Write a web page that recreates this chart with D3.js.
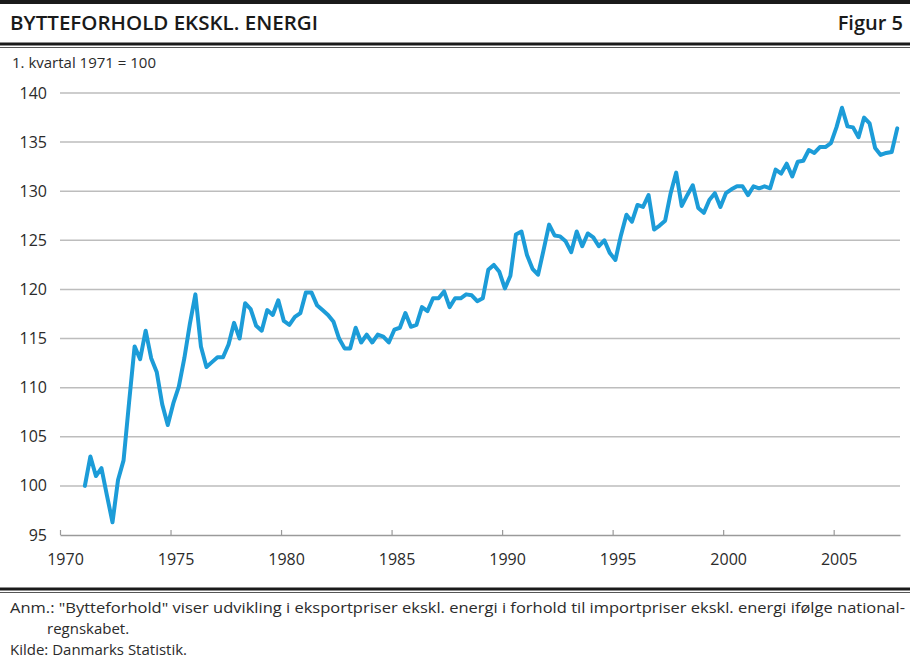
<!DOCTYPE html>
<html>
<head>
<meta charset="utf-8">
<script src="https://cdn.jsdelivr.net/npm/d3@7"></script>
<style>
  body { margin: 0; background: #fff; }
  svg { display: block; font-family: "Open Sans", sans-serif; }
</style>
</head>
<body>
<div id="graph"></div>
<script>
// Data ////////////////////////////////////////////////////////////////////
const title = "BYTTEFORHOLD EKSKL. ENERGI";
const figLabel = "Figur 5";
const unitLabel = "1. kvartal 1971 = 100";
const noteLines = [
  "Anm.: \"Bytteforhold\" viser udvikling i eksportpriser ekskl. energi i forhold til importpriser ekskl. energi ifølge national-",
  "regnskabet."
];
const sourceLine = "Kilde: Danmarks Statistik.";

const firstYear = 1971; // first quarter of the series
// quarterly index, 1971Q1 .. 2007Q4
const values = [
  100.0, 103.0, 101.0, 101.8, 99.0, 96.3, 100.6, 102.6, 108.5, 114.2,
  112.9, 115.8, 113.0, 111.6, 108.3, 106.2, 108.4, 110.1, 113.0, 116.5,
  119.5, 114.2, 112.1, 112.6, 113.1, 113.1, 114.4, 116.6, 115.0, 118.6,
  118.0, 116.3, 115.8, 117.9, 117.4, 118.9, 116.8, 116.4, 117.2, 117.6,
  119.7, 119.7, 118.4, 117.9, 117.4, 116.7, 115.0, 114.0, 114.0, 116.1,
  114.6, 115.4, 114.6, 115.4, 115.2, 114.6, 115.9, 116.1, 117.6, 116.2,
  116.4, 118.2, 117.8, 119.1, 119.1, 119.8, 118.2, 119.1, 119.1, 119.5,
  119.4, 118.8, 119.1, 122.0, 122.5, 121.8, 120.1, 121.4, 125.6, 125.9,
  123.5, 122.1, 121.5, 124.0, 126.6, 125.5, 125.4, 124.9, 123.8, 125.9,
  124.4, 125.7, 125.3, 124.4, 125.0, 123.7, 123.0, 125.5, 127.6, 126.9,
  128.6, 128.4, 129.6, 126.1, 126.5, 127.0, 129.8, 131.9, 128.5, 129.6,
  130.6, 128.3, 127.8, 129.1, 129.8, 128.4, 129.8, 130.2, 130.5, 130.5,
  129.6, 130.5, 130.3, 130.5, 130.3, 132.2, 131.8, 132.8, 131.5, 133.0,
  133.1, 134.2, 133.9, 134.5, 134.5, 134.9, 136.5, 138.5, 136.6, 136.5,
  135.5, 137.5, 136.9, 134.4, 133.7, 133.9, 134.0, 136.4
];

const yTicks = [95, 100, 105, 110, 115, 120, 125, 130, 135, 140];
const xTicks = [1970, 1975, 1980, 1985, 1990, 1995, 2000, 2005];

// Constants ////////////////////////////////////////////////////////////////
const svgWidth = 910;
const svgHeight = 658;
const plot = { left: 60, right: 900, top: 93, bottom: 535 };
const lineColor = "#1c9cd8";
const gridColor = "#bdbdbd";
const textColor = "#2b2b2b";

const svg = d3
  .select("#graph")
  .append("svg")
  .attr("width", svgWidth)
  .attr("height", svgHeight);

// Header ///////////////////////////////////////////////////////////////////
svg.append("rect")
  .attr("x", 0).attr("y", 0)
  .attr("width", svgWidth).attr("height", 4)
  .style("fill", "#1a1a1a");

svg.append("text")
  .attr("x", 10).attr("y", 30)
  .attr("textLength", 308)
  .attr("lengthAdjust", "spacingAndGlyphs")
  .style("font-size", "20px")
  .style("font-weight", 600)
  .style("fill", "#1a1a1a")
  .text(title);

svg.append("text")
  .attr("x", 903).attr("y", 30)
  .attr("text-anchor", "end")
  .style("font-size", "20px")
  .style("font-weight", 600)
  .style("fill", "#1a1a1a")
  .text(figLabel);

function doubleRule(y) {
  svg.append("line")
    .attr("x1", 0).attr("x2", svgWidth)
    .attr("y1", y).attr("y2", y)
    .style("stroke", "#1a1a1a")
    .style("stroke-width", 3);
  svg.append("line")
    .attr("x1", 0).attr("x2", svgWidth)
    .attr("y1", y + 3.5).attr("y2", y + 3.5)
    .style("stroke", "#555")
    .style("stroke-width", 1);
}
doubleRule(44);

svg.append("text")
  .attr("x", 12).attr("y", 68)
  .style("font-size", "15px")
  .style("fill", textColor)
  .text(unitLabel);

// Scales ///////////////////////////////////////////////////////////////////
const x = d3.scaleLinear().domain([1970, 2008]).range([plot.left, plot.right]);
const y = d3.scaleLinear().domain([95, 140]).range([plot.bottom, plot.top]);

// Grid + y labels
const grid = svg.append("g");
grid.selectAll("line")
  .data(yTicks.filter(d => d > 95))
  .join("line")
  .attr("x1", plot.left).attr("x2", plot.right)
  .attr("y1", d => y(d)).attr("y2", d => y(d))
  .style("stroke", gridColor)
  .style("stroke-width", 1.5);

svg.append("g")
  .selectAll("text")
  .data(yTicks)
  .join("text")
  .attr("x", 47)
  .attr("y", d => y(d))
  .attr("dy", "0.35em")
  .attr("text-anchor", "end")
  .style("font-size", "16px")
  .style("fill", textColor)
  .text(d => d);

// X axis
const xAxis = svg.append("g")
  .attr("transform", `translate(0, ${plot.bottom})`)
  .call(
    d3.axisBottom(x)
      .tickValues(xTicks)
      .tickFormat(d3.format("d"))
      .tickSizeInner(-5)
      .tickSizeOuter(0)
      .tickPadding(19)
  );

xAxis.select(".domain").style("stroke", "#9a9a9a").style("stroke-width", 1.5);
xAxis.selectAll(".tick line").style("stroke", "#9a9a9a").style("stroke-width", 1.2);
xAxis.selectAll(".tick text")
  .attr("dx", 5)
  .style("font-family", "\"Open Sans\", sans-serif")
  .style("font-size", "16px")
  .style("fill", textColor);

// Line /////////////////////////////////////////////////////////////////////
const series = values.map((v, i) => ({ t: firstYear + i / 4 + 0.125, v }));

const line = d3.line()
  .x(d => x(d.t))
  .y(d => y(d.v));

svg.append("path")
  .datum(series)
  .attr("d", line)
  .style("fill", "none")
  .style("stroke", lineColor)
  .style("stroke-width", 4)
  .style("stroke-linejoin", "round")
  .style("stroke-linecap", "round");

// Footer ///////////////////////////////////////////////////////////////////
doubleRule(589);

svg.append("text")
  .attr("x", 10).attr("y", 613)
  .attr("textLength", 895)
  .attr("lengthAdjust", "spacingAndGlyphs")
  .style("font-size", "15px")
  .style("fill", textColor)
  .text(noteLines[0]);

svg.append("text")
  .attr("x", 47).attr("y", 634)
  .style("font-size", "15px")
  .style("fill", textColor)
  .text(noteLines[1]);

svg.append("text")
  .attr("x", 10).attr("y", 655)
  .style("font-size", "15px")
  .style("fill", textColor)
  .text(sourceLine);
</script>
</body>
</html>
